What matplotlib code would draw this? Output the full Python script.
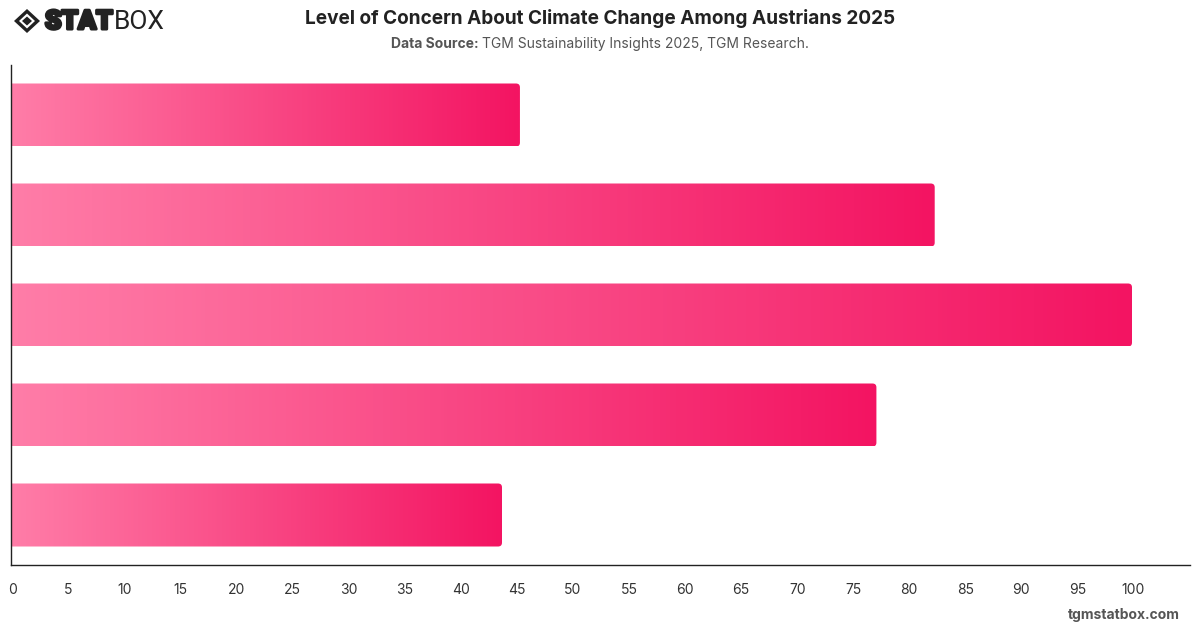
import matplotlib
matplotlib.use("Agg")
import matplotlib.pyplot as plt
import numpy as np
from matplotlib.patches import FancyBboxPatch, Polygon
from matplotlib.colors import LinearSegmentedColormap
import matplotlib.patheffects as pe
import matplotlib.transforms as mtransforms

# Data
categories = ["Category 1", "Category 2", "Category 3", "Category 4", "Category 5"]
values = [45.4, 82.4, 100.0, 77.2, 43.8]
x_ticks = list(range(0, 101, 5))

title = "Level of Concern About Climate Change Among Austrians 2025"

plt.rcParams['font.family'] = ['Inter', 'DejaVu Sans']

fig = plt.figure(figsize=(12, 6.28), dpi=100)
ax = fig.add_axes([11/1200, (628-565)/628, (1190-11)/1200, 500/628])

xmax = (1190 - 11) / 11.21
ax.set_xlim(0, xmax)
ax.set_ylim(len(categories) - 0.5, -0.5)

cmap = LinearSegmentedColormap.from_list("pinkgrad", ["#FF7DA8", "#F31462"])
bar_h = 0.63
grad = np.linspace(0, 1, 256).reshape(1, -1)

for i, v in enumerate(values):
    y0 = i - bar_h / 2
    patch = FancyBboxPatch((-2, y0), v + 2, bar_h,
                           boxstyle="round,pad=0,rounding_size=0.35",
                           mutation_aspect=0.111,
                           facecolor="none", edgecolor="none")
    ax.add_patch(patch)
    im = ax.imshow(grad, cmap=cmap, aspect="auto",
                   extent=(0, v, y0 + bar_h, y0), zorder=2, interpolation="bilinear")
    im.set_clip_path(patch)

ax.set_xticks(x_ticks)
ax.set_xticklabels([str(t) for t in x_ticks], fontsize=10, color="#333333")
ax.tick_params(axis='x', length=0, pad=13)
offset = mtransforms.ScaledTranslation(1.5/100, 0, fig.dpi_scale_trans)
for lbl in ax.get_xticklabels():
    lbl.set_transform(lbl.get_transform() + offset)
ax.set_yticks([])
for s in ["top", "right"]:
    ax.spines[s].set_visible(False)
for s in ["left", "bottom"]:
    ax.spines[s].set_color("#222222")
    ax.spines[s].set_linewidth(1.0)

# Title & subtitle
fig.text(0.5, 1 - 18/628, title, ha="center", va="center",
         fontsize=13.7, fontweight="bold", color="#222222")
t1 = fig.text(0.5, 1 - 44/628, "Data Source: ", ha="right", va="center",
              fontsize=10, fontweight="bold", color="#555555")
t2 = fig.text(0.5, 1 - 44/628, "TGM Sustainability Insights 2025, TGM Research.",
              ha="left", va="center", fontsize=10, color="#555555")
fig.canvas.draw()
r = fig.canvas.get_renderer()
w1 = t1.get_window_extent(r).width
w2 = t2.get_window_extent(r).width
left = 600 - (w1 + w2) / 2
t1.set_x((left + w1) / 1200)
t2.set_x((left + w1) / 1200)

# Watermark
fig.text(1180/1200, 1 - 615/628, "tgmstatbox.com", ha="right", va="center",
         fontsize=10, fontweight="bold", color="#555555")

# Logo
lax = fig.add_axes([0, 1 - 42/628, 200/1200, 42/628])
lax.set_xlim(0, 200)
lax.set_ylim(42, 0)
lax.axis("off")
cx, cy = 27, 21
outer = [(cx - 13, cy), (cx, cy - 12), (cx + 13, cy), (cx, cy + 12)]
lax.add_patch(Polygon(outer, closed=True, facecolor="#222222", edgecolor="none"))
inner = [(cx - 8, cy), (cx, cy - 7.5), (cx + 8, cy), (cx, cy + 7.5)]
lax.add_patch(Polygon(inner, closed=True, facecolor="white", edgecolor="none"))
inner2 = [(cx - 5, cy), (cx, cy - 4.5), (cx + 5, cy), (cx, cy + 4.5)]
lax.add_patch(Polygon(inner2, closed=True, facecolor="#222222", edgecolor="none"))
lax.text(45, 22, "STAT", fontsize=19, fontweight="heavy", family=["Roboto", "DejaVu Sans"],
         color="#222222", va="center", ha="left",
         path_effects=[pe.withStroke(linewidth=2.2, foreground="#222222")])
lax.text(114, 22, "BOX", fontsize=19, fontweight="normal", family=["Roboto", "DejaVu Sans"],
         color="#222222", va="center", ha="left")

fig.savefig("out.png", dpi=100)
